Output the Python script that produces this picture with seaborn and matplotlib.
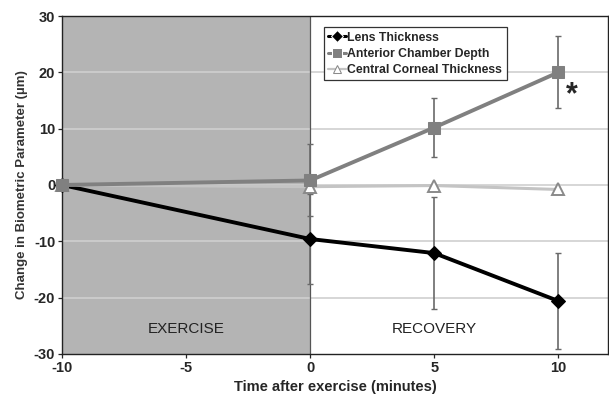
import matplotlib
matplotlib.use('Agg')
import matplotlib.pyplot as plt
import pandas as pd
import seaborn as sns

time = [-10, 0, 5, 10]
lens = [0, -9.6, -12.1, -20.6]
lens_err = [0, 8.0, 10.0, 8.5]
acd = [0, 0.8, 10.2, 20.0]
acd_err = [0, 6.4, 5.2, 6.4]
cct = [0, -0.3, -0.1, -0.8]

names = ['Lens Thickness', 'Anterior Chamber Depth', 'Central Corneal Thickness']


def main():
    sns.set_style('white')
    plt.rcParams['font.family'] = ['Liberation Sans', 'DejaVu Sans']
    plt.rcParams['axes.unicode_minus'] = False

    df = pd.DataFrame({
        'time': time * 3,
        'value': lens + acd + cct,
        'series': [names[0]] * 4 + [names[1]] * 4 + [names[2]] * 4,
    })
    colors = {names[0]: '#000000', names[1]: '#808080', names[2]: '#c4c4c4'}

    f = plt.figure(figsize=(6.09, 4.03), dpi=100)
    ax = f.add_axes([0.102, 0.122, 0.896, 0.838])

    ax.axvspan(-10, 0, color='#b4b4b4', zorder=0, lw=0)
    for yy in [-20, -10, 0, 10, 20]:
        ax.axhline(yy, color='#cfcfcf', lw=1.2, zorder=0.5)
    ax.axvline(0, color='#555555', lw=0.9, zorder=0.6)

    # error bars
    for vals, errs in [(lens, lens_err), (acd, acd_err)]:
        ax.errorbar(time[1:], vals[1:], yerr=errs[1:], fmt='none',
                    ecolor='#6a6a6a', elinewidth=1.2, capsize=2.5, zorder=2)

    sns.lineplot(data=df, x='time', y='value', hue='series', style='series',
                 palette=colors, markers={names[0]: 'D', names[1]: 's', names[2]: '^'},
                 dashes=False, ax=ax, zorder=3)

    widths = {names[0]: 2.8, names[1]: 2.8, names[2]: 2.2}
    series_lines = [l for l in ax.get_lines() if len(l.get_xdata()) == 4]
    for line, name in zip(series_lines[-3:], names):
        line.set_linewidth(widths[name])
        line.set_clip_on(False)
        if name == names[0]:
            line.set_markersize(7)
            line.set_markerfacecolor('#000000')
            line.set_markeredgecolor('#000000')
        elif name == names[1]:
            line.set_markersize(9)
            line.set_markerfacecolor('#808080')
            line.set_markeredgecolor('#808080')
            line.set_zorder(3.5)
        else:
            line.set_markersize(8)
            line.set_markerfacecolor('white')
            line.set_markeredgecolor('#8a8a8a')
            line.set_markeredgewidth(1.4)

    handles, labels = ax.get_legend_handles_labels()
    for h, name in zip(handles, labels):
        h.set_linestyle('-')
        if name == names[0]:
            h.set_markersize(6)
            h.set_linewidth(2.2)
        elif name == names[1]:
            h.set_markersize(7)
            h.set_linewidth(2.2)
        else:
            h.set_markersize(6)
            h.set_markerfacecolor('white')
            h.set_markeredgecolor('#8a8a8a')
            h.set_linewidth(1.6)
    leg = ax.legend(handles, labels, loc='upper left', bbox_to_anchor=(0.468, 0.985),
                    frameon=True, fancybox=False, edgecolor='#333333', framealpha=1,
                    handlelength=1.5, handletextpad=0.1, borderpad=0.35,
                    labelspacing=0.35, prop={'weight': 'bold', 'size': 8.8})
    leg.get_frame().set_linewidth(0.9)

    ax.text(-5, -25.5, 'EXERCISE', ha='center', va='center', fontsize=11, color='#222222')
    ax.text(5, -25.5, 'RECOVERY', ha='center', va='center', fontsize=11, color='#222222')
    ax.text(10.55, 16.0, '*', ha='center', va='center', fontsize=22, fontweight='bold')

    ax.set_xlim(-10, 12)
    ax.set_ylim(-30, 30)
    ax.set_xticks([-10, -5, 0, 5, 10])
    ax.set_yticks([-30, -20, -10, 0, 10, 20, 30])
    ax.tick_params(axis='both', labelsize=10.5, length=3, direction='out',
                   bottom=True, left=True, width=0.9, pad=2)
    for t in ax.get_xticklabels() + ax.get_yticklabels():
        t.set_fontweight('bold')
    ax.set_xlabel('Time after exercise (minutes)', fontsize=10.5, fontweight='bold')
    ax.set_ylabel('Change in Biometric Parameter (\u00b5m)', fontsize=9.5, fontweight='bold',
                  color='#333333')
    for s in ax.spines.values():
        s.set_color('#222222')
        s.set_linewidth(1.0)

    f.savefig('out.png', dpi=100)


if __name__ == '__main__':
    main()
